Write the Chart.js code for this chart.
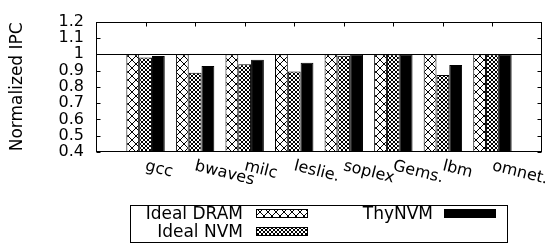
<!DOCTYPE html>
<html>
<head>
<meta charset="utf-8">
<script src="https://cdn.jsdelivr.net/npm/chart.js@4.4.1/dist/chart.umd.min.js"></script>
<style>
  html, body { margin: 0; padding: 0; background: #fff; }
  canvas { display: block; }
</style>
</head>
<body>
<canvas id="ipc-chart" width="545" height="247"></canvas>
<script>
// values
const benchmarks = ['gcc', 'bwaves', 'milc', 'leslie.', 'soplex', 'Gems.', 'lbm', 'omnet.'];
const idealDram = [1, 1, 1, 1, 1, 1, 1, 1];
const idealNvm = [0.98, 0.886, 0.938, 0.894, 0.991, 0.999, 0.872, 0.999];
const thyNvm = [0.989, 0.928, 0.966, 0.947, 1.0, 1.0, 0.934, 1.0];
const yTicks = [0.4, 0.5, 0.6, 0.7, 0.8, 0.9, 1, 1.1, 1.2];

const FONT = '"DejaVu Sans", sans-serif';
Chart.defaults.font.family = FONT;
Chart.defaults.color = '#000';

// gnuplot-ish fill patterns
function makePattern(w, h, pixels) {
  const c = document.createElement('canvas');
  c.width = w; c.height = h;
  const g = c.getContext('2d');
  g.fillStyle = '#fff';
  g.fillRect(0, 0, w, h);
  g.fillStyle = '#000';
  pixels.forEach(([px, py]) => g.fillRect(px, py, 1, 1));
  return g.createPattern(c, 'repeat');
}

const bigCross = [];
for (let i = 0; i < 8; i++) { bigCross.push([i, i]); bigCross.push([7 - i, i]); }
const smallCross = [];
for (let i = 0; i < 4; i++) { smallCross.push([i, i]); smallCross.push([3 - i, i]); }

const dramFill = makePattern(8, 8, bigCross);
const nvmFill = makePattern(4, 4, smallCross);

const toPoints = vals => benchmarks.map((b, i) => ({ x: i, y: vals[i] }));

// frame, inward tics and rotated category labels
const framePlugin = {
  id: 'frame',
  afterDatasetsDraw(chart) {
    const { ctx, chartArea: a, scales: { x, y } } = chart;
    ctx.save();
    ctx.strokeStyle = '#000';
    ctx.lineWidth = 1;
    const L = Math.round(a.left) + 0.5, R = Math.round(a.right) - 0.5;
    const T = Math.round(a.top) + 0.5, B = Math.round(a.bottom) - 0.5;
    ctx.strokeRect(L, T, R - L, B - T);
    ctx.beginPath();
    yTicks.forEach(v => {
      const py = Math.round(y.getPixelForValue(v)) + 0.5;
      ctx.moveTo(L, py); ctx.lineTo(L + 4, py);
      ctx.moveTo(R, py); ctx.lineTo(R - 4, py);
    });
    benchmarks.forEach((b, i) => {
      const px = Math.round(x.getPixelForValue(i)) + 0.5;
      ctx.moveTo(px, T); ctx.lineTo(px, T + 4);
    });
    ctx.stroke();

    ctx.font = '16px ' + FONT;
    ctx.fillStyle = '#000';
    ctx.textAlign = 'left';
    ctx.textBaseline = 'alphabetic';
    benchmarks.forEach((b, i) => {
      ctx.save();
      ctx.translate(x.getPixelForValue(i) - 1, a.bottom + 18);
      ctx.rotate(14 * Math.PI / 180);
      ctx.fillText(b, 0, 0);
      ctx.restore();
    });
    ctx.restore();
  }
};

// boxed key under the plot
const keyPlugin = {
  id: 'key',
  afterDraw(chart) {
    const ctx = chart.ctx;
    const sets = chart.data.datasets;
    const slots = [
      { tx: 243, sx: 256, y: 213 },
      { tx: 243, sx: 256, y: 231 },
      { tx: 433, sx: 444, y: 213 }
    ];
    ctx.save();
    ctx.strokeStyle = '#000';
    ctx.lineWidth = 1;
    ctx.strokeRect(130.5, 205.5, 377, 37);
    ctx.font = '17px ' + FONT;
    ctx.textAlign = 'right';
    ctx.textBaseline = 'middle';
    sets.forEach((d, i) => {
      const s = slots[i];
      ctx.fillStyle = '#000';
      ctx.fillText(d.label, s.tx, s.y + 2);
      ctx.fillStyle = d.backgroundColor;
      ctx.fillRect(s.sx, s.y - 4, 52, 9);
      ctx.strokeRect(s.sx + 0.5, s.y - 3.5, 51, 8);
    });
    ctx.restore();
  }
};

const ctx = document.getElementById('ipc-chart').getContext('2d');

new Chart(ctx, {
  type: 'bar',
  data: {
    datasets: [
      { label: 'Ideal DRAM', data: toPoints(idealDram), backgroundColor: dramFill },
      { label: 'Ideal NVM', data: toPoints(idealNvm), backgroundColor: nvmFill },
      { label: 'ThyNVM', data: toPoints(thyNvm), backgroundColor: '#000' }
    ]
  },
  options: {
    responsive: false,
    animation: false,
    devicePixelRatio: 1,
    layout: { padding: { top: 10, right: 3, bottom: 95, left: 0 } },
    datasets: {
      bar: {
        base: 0.4,
        borderColor: '#000',
        borderWidth: 1,
        borderSkipped: 'start',
        categoryPercentage: 0.775,
        barPercentage: 1
      }
    },
    plugins: {
      legend: { display: false },
      tooltip: { enabled: false }
    },
    scales: {
      x: {
        type: 'linear',
        min: -1,
        max: 8,
        offset: false,
        display: false
      },
      y: {
        min: 0.4,
        max: 1.2,
        afterBuildTicks: scale => { scale.ticks = yTicks.map(v => ({ value: v })); },
        afterFit: scale => { scale.width = 96; },
        ticks: {
          autoSkip: false,
          padding: 12,
          font: { size: 16 },
          callback: v => String(Math.round(v * 10) / 10)
        },
        grid: {
          drawTicks: false,
          color: c => (c.tick && c.tick.value === 1 ? '#000' : 'rgba(0,0,0,0)')
        },
        border: { display: false },
        title: {
          display: true,
          text: 'Normalized IPC',
          font: { size: 17 },
          padding: { top: 7, bottom: 0 }
        }
      }
    }
  },
  plugins: [framePlugin, keyPlugin]
});
</script>
</body>
</html>
